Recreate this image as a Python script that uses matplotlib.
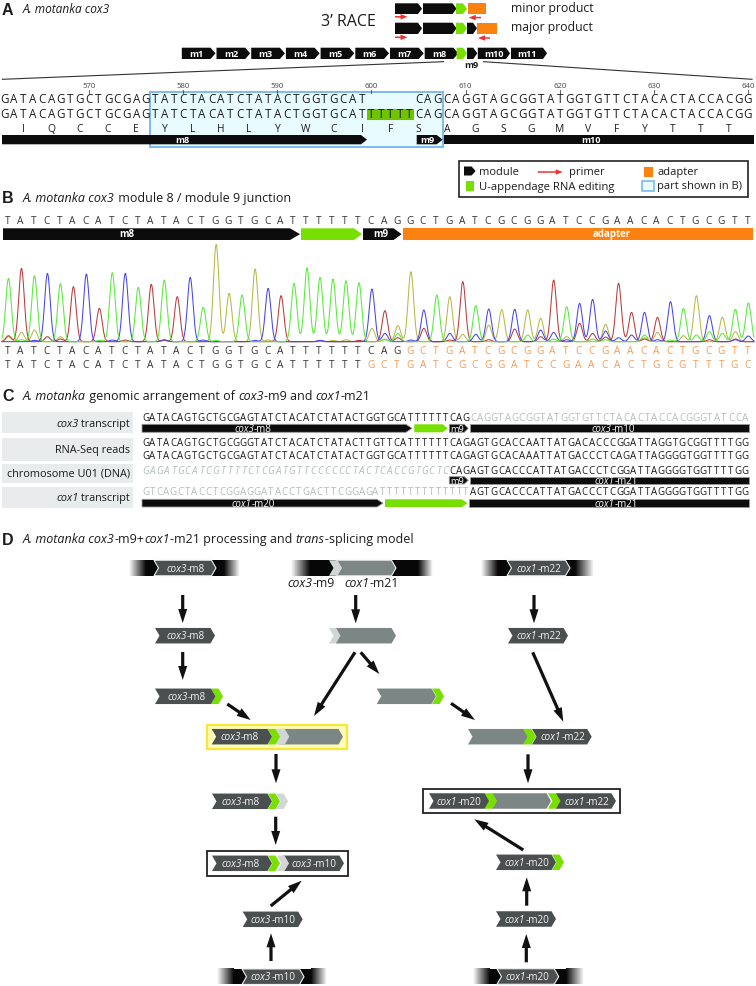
import numpy as np
import matplotlib
matplotlib.use('Agg')
import matplotlib.pyplot as plt
from matplotlib.patches import Polygon, Rectangle, FancyArrow
from matplotlib.font_manager import FontProperties

plt.rcParams['font.family'] = ['Open Sans', 'DejaVu Sans']

# panel A
modules = ['m1', 'm2', 'm3', 'm4', 'm5', 'm6', 'm7', 'm8']
seq_top = 'GATACAGTGCTGCGAGTATCTACATCTATACTGGTGCAT     CAGCAGGTAGCGGTATGGTGTTCTACACTACCACGG'
seq_edit = 'GATACAGTGCTGCGAGTATCTACATCTATACTGGTGCATTTTTTCAGCAGGTAGCGGTATGGTGTTCTACACTACCACGG'
amino = 'IQCCEYLHLYWCIFSAGSGMVFYTTT'
positions = [570, 580, 590, 600, 610, 620, 630, 640]
first_position = 561

# panel B
called_top = 'TATCTACATCTATACTGGTGCATTTTTTCAGGCTGATCGCGGATCCGAACACTGCGTT'
called_row1 = 'TATCTACATCTATACTGGTGCATTTTTTCAGGCTGATCGCGGATCCGAACACTGCGTT'
called_row2 = 'TATCTACATCTATACTGGTGCATTTTTTGCTGATCGCGGATCCGAACACTGCGTTTGC'
row1_black = 31
row2_black = 28
# main peak per base, in trace units
main_peaks = [190, 220, 193, 205, 174, 165, 200, 100, 207, 205, 163, 172, 185, 135, 193,
              103, 292, 145, 140, 218, 160, 138, 175, 217, 193, 188, 183, 177, 158, 93,
              48, 210, 95, 135, 135, 180, 100, 98, 88, 90, 95, 70, 185, 97, 115, 127,
              38, 175, 88, 88, 73, 120, 100, 138, 78, 73, 97, 110]
# small peaks under the main ones: (base index, height)
minor_t = [(1, 6), (2, 5), (7, 4), (16, 4), (23, 4), (29, 6), (30, 25), (33, 5), (36, 8), (40, 20),
           (42, 8), (43, 8), (45, 8), (46, 6), (49, 20), (51, 5), (53, 20), (54, 30), (55, 25), (57, 6)]
minor_a = [(0, 18), (3, 15), (4, 8), (9, 5), (12, 4), (24, 3), (27, 4), (30, 12), (32, 40), (34, 5), (37, 6),
           (39, 38), (41, 15), (44, 55), (45, 25), (46, 14), (49, 8), (54, 6), (56, 8)]
minor_c = [(2, 4), (6, 3), (8, 5), (12, 6), (15, 5), (19, 4), (24, 4), (29, 25), (31, 5), (34, 25), (36, 22),
           (39, 7), (41, 35), (42, 28), (43, 6), (46, 32), (47, 12), (48, 20), (50, 6), (56, 6), (57, 17)]
minor_g = [(0, 15), (1, 28), (2, 35), (4, 15), (12, 5), (20, 5), (25, 4), (26, 6), (28, 40), (29, 8), (35, 22),
           (37, 50), (38, 8), (43, 15), (46, 14), (49, 12), (50, 28), (52, 18), (56, 30)]

# panel C
seq_cox3_black = 'GATACAGTGCTGCGAGTATCTACATCTATACTGGTGCATTTTTTCAG'
seq_cox3_grey = 'CAGGTAGCGGTATGGTGTTCTACACTACCACGGGTATCCA'
seq_rna1 = 'GATACAGTGCTGCGGGTATCTACATCTATACTTGTTCATTTTTTCAGAGTGCACCAATTATGACACCCGGATTAGGTGCGGTTTTGG'
seq_rna2 = 'GATACAGTGCTGCGAGTATCTACATCTATACTGGTGCATTTTTTCAGAGTGCACAAATTATGACCCTCAGATTAGGGGTGGTTTTGG'
seq_chr_grey = 'GAGATGCATCGTTTTCTCGATGTTCCCCCCTACTCACCGTGCTC'
seq_chr_black = 'CAGAGTGCACCCATTATGACCCTCGGATTAGGGGTGGTTTTGG'
seq_cox1_grey = 'GTCAGCTACCTCGGAGGATACCTGACTTCGGAGATTTTTTTTTTTTT'
seq_cox1_black = 'AGTGCACCCATTATGACCCTCGGATTAGGGGTGGTTTTGG'

BLACK = '#0c0c0c'
GREEN = '#78e000'
ORANGE = '#fb8110'
DARK = '#4a4f50'
GREY = '#7b8685'
LIGHT = '#d3d6d6'
RED = '#f03030'
TXT = '#1c1c1c'
SOFT = '#b4bcbc'
TITLE = 9.0
CHEV = 7.2

fig = plt.figure(figsize=(7.56, 9.86), dpi=100)
ax = fig.add_axes([0, 0, 1, 1])


def baseline(y, size):
    # y is the middle of the capitals
    return y + 0.357 * size * 100 / 72


def seq(x0, step, y, s, size, color=TXT, style='normal', weight='normal'):
    for i, c in enumerate(s):
        if c != ' ':
            ax.text(x0 + step * i, baseline(y, size), c, ha='center', va='baseline',
                    fontsize=size, color=color, style=style, weight=weight, zorder=5)


def width(s, style, size):
    r = fig.canvas.get_renderer()
    fp = FontProperties(family=plt.rcParams['font.family'], style=style, size=size)
    w1 = r.get_text_width_height_descent('x' + s + 'x', fp, False)[0]
    w2 = r.get_text_width_height_descent('xx', fp, False)[0]
    return w1 - w2


def rich(x, y, parts, size, color=TXT, ha='left'):
    # mixed italic and upright text on one line
    widths = [width(s, 'italic' if it else 'normal', size) for s, it in parts]
    total = sum(widths)
    if ha == 'center':
        x = x - total / 2
    elif ha == 'right':
        x = x - total
    for (s, it), w in zip(parts, widths):
        ax.text(x, baseline(y, size), s, ha='left', va='baseline', fontsize=size, color=color,
                style='italic' if it else 'normal', zorder=9)
        x += w


def bar(x0, x1, y0, y1, color=BLACK, head=0, edge='none', z=3):
    if head:
        pts = [(x0, y0), (x1 - head, y0), (x1, (y0 + y1) / 2), (x1 - head, y1), (x0, y1)]
    else:
        pts = [(x0, y0), (x1, y0), (x1, y1), (x0, y1)]
    ax.add_patch(Polygon(pts, closed=True, fc=color, ec=edge, lw=0.6, zorder=z))


def label(x, y, s, size=6.6, weight='bold', color='white'):
    ax.text(x, baseline(y, size), s, ha='center', va='baseline', fontsize=size, color=color,
            weight=weight, zorder=9)


def chevron(x0, x1, yc, color, h=15.5, d=4.5, edge='none', z=4):
    t, b = yc - h / 2, yc + h / 2
    pts = [(x0, t), (x1 - d, t), (x1, yc), (x1 - d, b), (x0, b), (x0 + d, yc)]
    ax.add_patch(Polygon(pts, closed=True, fc=color, ec=edge, lw=0.8, zorder=z))


def genomic(x0, x1, x2, x3, yc, h=15.5):
    ramp = np.linspace(1, 0.03, 64)[None, :]
    t, b = yc + h / 2, yc - h / 2
    ax.imshow(ramp, cmap='gray', vmin=0, vmax=1, extent=(x0, x1, t, b), aspect='auto', zorder=2)
    ax.imshow(ramp[:, ::-1], cmap='gray', vmin=0, vmax=1, extent=(x2, x3, t, b), aspect='auto', zorder=2)
    bar(x1, x2, b, t, color='#070707', z=2)


def arrow(x0, y0, x1, y1):
    ax.add_patch(FancyArrow(x0, y0, x1 - x0, y1 - y0, width=3.2, head_width=9, head_length=14,
                            length_includes_head=True, fc='#111111', ec='none', zorder=5))


def primer(x0, x1, y):
    ax.add_patch(FancyArrow(x0, y, x1 - x0, 0, width=1.5, head_width=5.5, head_length=7,
                            length_includes_head=True, fc=RED, ec='none', zorder=5))


def panel_letter(s, y):
    ax.text(2, baseline(y, 11.5), s, fontsize=11.5, weight='bold', family='Liberation Sans',
            color=TXT, ha='left', va='baseline')


def panel_a():
    panel_letter('A', 9)
    rich(23, 9, [('A. motanka cox3', True)], 8.6)
    ax.text(348, baseline(20, 11.5), '3’ RACE', fontsize=11.5, ha='center', va='baseline', color=TXT)

    # 3' RACE products
    for yt, yb, last in [(3.3, 14, 'minor'), (22.7, 34, 'major')]:
        bar(395, 422, yt, yb, head=4)
        bar(423, 456.5, yt, yb, head=4)
        bar(456, 467, yt, yb, color=GREEN, head=4)
        if last == 'minor':
            bar(467.7, 486, yt, yb, color=ORANGE)
        else:
            bar(467, 477, yt, yb, head=4)
            bar(477.3, 496.6, yt, yb, color=ORANGE)
    primer(395, 407.5, 16.8)
    primer(481, 468.7, 17.6)
    primer(395, 407.5, 37.3)
    primer(490, 478, 38)
    rich(511, 8, [('minor product', False)], 8.8)
    rich(511, 27, [('major product', False)], 8.8)

    # module overview
    x = 181.8
    for name in modules:
        bar(x, x + 33.7, 47.7, 59, head=5)
        label(x + 14.5, 53.5, name)
        x += 34.7
    bar(456.6, 467, 47.7, 59, color=GREEN, head=4)
    bar(467, 477.3, 47.7, 59, head=4)
    bar(477.8, 510, 47.7, 59, head=4)
    label(494, 53.5, 'm10')
    bar(511, 547, 47.7, 59, head=4)
    label(527, 53.5, 'm11')
    label(471, 65, 'm9', color=TXT)
    ax.plot([2.4, 443.6], [79.3, 61.7], color='#333333', lw=0.8)
    ax.plot([483.6, 752], [61.7, 79.3], color='#333333', lw=0.8)

    # alignment
    step = 9.41
    x0 = 4.5
    ax.add_patch(Rectangle((150, 92), 292.7, 55, fc='#e8fbff', ec='#7db9f2', lw=1.4, zorder=1))
    bar(x0 + step * 39 - 4.7, x0 + step * 43 + 4.7, 109, 119.5, color='#6fc400', z=2)
    for p in positions:
        xp = x0 + step * (p - first_position)
        ax.text(xp, 86, str(p), fontsize=5.6, color='#444444', ha='center', va='center')
        ax.plot([xp, xp], [90, 92.5], color='#444444', lw=0.6)
    seq(x0, step, 99, seq_top, 8.4)
    seq(x0, step, 114, seq_edit, 8.4)
    seq(x0 + 2 * step, 3 * step, 128, amino, 7.4)
    bar(2, 367, 135, 144.3, head=6)
    bar(416.7, 442.7, 135, 144.3, head=6)
    bar(444, 753.7, 135, 144.3)
    label(182, 139.8, 'm8')
    label(427, 139.8, 'm9')
    label(591, 139.8, 'm10')

    # key
    ax.add_patch(Rectangle((459.3, 160.7), 289, 36, fc='white', ec='#222222', lw=1.2, zorder=1))
    bar(464, 475.6, 166.5, 175.5, head=4)
    bar(466, 474, 180.5, 190.5, color=GREEN)
    primer(537.7, 562.7, 172)
    bar(644, 653, 167, 177, color=ORANGE)
    ax.add_patch(Rectangle((642, 181), 12, 10, fc='#e8fbff', ec='#7db9f2', lw=1.2, zorder=3))
    rich(478.7, 171, [('module', False)], 8.0)
    rich(568.7, 171, [('primer', False)], 8.0)
    rich(657, 171, [('adapter', False)], 8.0)
    rich(478.7, 185.5, [('U-appendage RNA editing', False)], 8.1)
    rich(657, 185.5, [('part shown in B)', False)], 8.0)


def panel_b():
    panel_letter('B', 197.5)
    rich(23, 197.5, [('A. motanka cox3', True), (' module 8 / module 9 junction', False)], TITLE)
    step = 12.98
    x0 = 7.5
    seq(x0, step, 220, called_top, 7.3, color='#333333')
    bar(3, 300, 228.3, 240, head=10)
    bar(301, 362, 228.3, 240, color=GREEN, head=8)
    bar(363, 401.6, 228.3, 240, head=8)
    bar(403, 752.7, 228.3, 240, color=ORANGE)
    label(127, 234, 'm8', size=7)
    label(381, 234, 'm9', size=7)
    label(612, 234, 'adapter', size=7)

    # traces: one peak shape per called base
    xs = np.linspace(0, 756, 3000)
    base_y = 341.7
    scale = 1 / 3.0
    sigma = 2.75
    peaks = {'T': list(minor_t), 'A': list(minor_a), 'C': list(minor_c), 'G': list(minor_g)}
    for i, (c, h) in enumerate(zip(called_top, main_peaks)):
        peaks[c].append((i, h))
    colors = {'G': '#b8b848', 'A': '#b93c3c', 'C': '#4646ee', 'T': '#58ea3c'}
    for c in ['G', 'A', 'C', 'T']:
        sig = np.zeros_like(xs)
        for i, h in peaks[c]:
            sig += h * scale * np.exp(-0.5 * ((xs - (x0 + 1 + step * i)) / sigma) ** 2)
        mask = (xs > 2) & (xs < 754)
        ax.plot(xs[mask], base_y - sig[mask], color=colors[c], lw=0.75, zorder=3)

    seq(x0, step, 350, called_row1[:row1_black], 7.3, color='#333333')
    seq(x0 + step * row1_black, step, 350, called_row1[row1_black:], 7.3, color='#f59a55')
    seq(x0, step, 364, called_row2[:row2_black], 7.3, color='#333333')
    seq(x0 + step * row2_black, step, 364, called_row2[row2_black:], 7.3, color='#f59a55')


def panel_c():
    panel_letter('C', 395.5)
    rich(23, 395.5, [('A. motanka', True), (' genomic arrangement of ', False), ('cox3', True),
                     ('-m9 and ', False), ('cox1', True), ('-m21', False)], TITLE)
    for y0, y1 in [(412, 433), (438, 461), (464, 483), (487, 508)]:
        ax.add_patch(Rectangle((2, y0), 131, y1 - y0, fc='#e9ecec', ec='none', zorder=1))
    rich(130, 423, [('cox3', True), (' transcript', False)], 7.8, ha='right')
    rich(130, 449.5, [('RNA-Seq reads', False)], 7.8, ha='right')
    rich(130, 473, [('chromosome U01 (DNA)', False)], 7.8, ha='right')
    rich(130, 497.5, [('cox1', True), (' transcript', False)], 7.8, ha='right')

    step = 6.97
    x0 = 145.5
    seq(x0, step, 417.7, seq_cox3_black, 7.0)
    seq(x0 + step * 47, step, 417.7, seq_cox3_grey, 7.0, color=SOFT)
    seq(x0, step, 442.3, seq_rna1, 7.0)
    seq(x0, step, 455.7, seq_rna2, 7.0)
    seq(x0, step, 470.7, seq_chr_grey, 7.0, color=SOFT, style='italic')
    seq(x0 + step * 44, step, 470.7, seq_chr_black, 7.0)
    seq(x0, step, 491.7, seq_cox1_grey, 7.0, color=SOFT)
    seq(x0 + step * 47, step, 491.7, seq_cox1_black, 7.0)

    e = '#9a9a9a'
    bar(142, 412, 424.3, 432.3, head=6, edge=e)
    bar(414.3, 447.7, 424.3, 432.3, color=GREEN, head=5)
    bar(449.3, 468.3, 424.3, 432.3, head=4, edge=e)
    bar(470, 749.3, 424.3, 432.3, edge=e)
    rich(253, 428.3, [('cox3', True), ('-m8', False)], 7, color='white', ha='center')
    rich(613, 428.3, [('cox3', True), ('-m10', False)], 7, color='white', ha='center')
    rich(457, 428.3, [('m9', False)], 6.6, color='white', ha='center')

    bar(449.3, 468.3, 476.7, 484, head=4, edge=e)
    bar(470, 749.3, 476.7, 484, edge=e)
    rich(457, 480.3, [('m9', False)], 6.6, color='white', ha='center')
    rich(616, 480.3, [('cox1', True), ('-m21', False)], 7, color='white', ha='center')

    bar(142, 383, 499.3, 507, head=6, edge=e)
    bar(385, 467.7, 499.3, 507, color=GREEN, head=6)
    bar(469.3, 749.3, 499.3, 507, edge=e)
    rich(253, 503.2, [('cox1', True), ('-m20', False)], 7, color='white', ha='center')
    rich(616, 503.2, [('cox1', True), ('-m21', False)], 7, color='white', ha='center')


def dark_label(x, y, gene, module):
    rich(x, y, [(gene, True), (module, False)], CHEV, color='#f2f2f2', ha='center')


def panel_d():
    panel_letter('D', 539)
    rich(23, 539, [('A. motanka cox3', True), ('-m9+', False), ('cox1', True),
                   ('-m21 processing and ', False), ('trans', True), ('-splicing model', False)], TITLE)

    # genomic context, first row
    genomic(129, 146, 224, 240, 568)
    chevron(154, 216, 568, DARK, edge='#f0f0f0')
    dark_label(186, 568, 'cox3', '-m8')
    genomic(291, 310, 418, 433, 568)
    chevron(329, 342, 568, LIGHT, z=5)
    chevron(336, 396, 568, GREY, edge='#f0f0f0', z=4)
    rich(311, 583, [('cox3', True), ('-m9', False)], 8.8, ha='center')
    rich(372, 583, [('cox1', True), ('-m21', False)], 8.8, ha='center')
    genomic(481, 498, 575, 594, 568)
    chevron(507, 570, 568, DARK, edge='#f0f0f0')
    dark_label(539, 568, 'cox1', '-m22')

    # second row
    chevron(155, 215, 635.7, DARK)
    dark_label(186, 635.7, 'cox3', '-m8')
    chevron(329, 342, 635.7, LIGHT)
    chevron(336, 396, 635.7, GREY)
    chevron(508, 568, 635.7, DARK)
    dark_label(539, 635.7, 'cox1', '-m22')

    # third row
    chevron(211, 223, 696.3, GREEN)
    chevron(155, 215.5, 696.3, DARK, z=5)
    dark_label(186.5, 696.3, 'cox3', '-m8')
    chevron(432, 444, 696.3, GREEN)
    chevron(376.7, 436, 696.3, GREY, z=5)

    # fourth row
    ax.add_patch(Rectangle((206.7, 725), 140.6, 24, fc='#fdfbb8', ec='#f6e83a', lw=1.6, zorder=1))
    chevron(279, 343, 736.7, GREY, z=4)
    chevron(275, 289.3, 736.7, LIGHT, z=5)
    chevron(267.7, 280, 736.7, GREEN, z=6)
    chevron(211.7, 272, 736.7, DARK, z=7)
    dark_label(240, 736.7, 'cox3', '-m8')
    chevron(468, 528, 736.7, GREY, z=4)
    chevron(523, 536, 736.7, GREEN, z=5)
    chevron(532, 591.7, 736.7, DARK, z=6)
    dark_label(563, 736.7, 'cox1', '-m22')

    # fifth row
    chevron(276, 288, 801.3, LIGHT, z=4)
    chevron(268, 280, 801.3, GREEN, z=5)
    chevron(212, 272, 801.3, DARK, z=6)
    dark_label(240.5, 801.3, 'cox3', '-m8')
    ax.add_patch(Rectangle((422.7, 789), 197.3, 24.3, fc='white', ec='#222222', lw=1.3, zorder=1))
    chevron(492, 551, 801, GREY, z=4)
    chevron(484, 497, 801, GREEN, z=5)
    chevron(429, 489, 801, DARK, z=6)
    chevron(548, 561, 801, GREEN, z=5)
    chevron(556, 616, 801, DARK, z=6)
    dark_label(459, 801, 'cox1', '-m20')
    dark_label(587, 801, 'cox1', '-m22')

    # sixth row
    ax.add_patch(Rectangle((206.7, 851), 141.6, 24.7, fc='white', ec='#222222', lw=1.3, zorder=1))
    chevron(283, 344, 863.3, DARK, z=4)
    chevron(277, 289, 863.3, LIGHT, z=5)
    chevron(268, 280, 863.3, GREEN, z=6)
    chevron(212, 272, 863.3, DARK, z=7)
    dark_label(240.7, 863.3, 'cox3', '-m8')
    dark_label(314, 863.3, 'cox3', '-m10')
    chevron(552, 564, 862.3, GREEN, z=4)
    chevron(496, 556, 862.3, DARK, z=5)
    dark_label(527, 862.3, 'cox1', '-m20')

    # seventh and eighth rows
    chevron(242.7, 302.7, 919.3, DARK)
    dark_label(273, 919.3, 'cox3', '-m10')
    chevron(496, 556, 919, DARK)
    dark_label(527, 919, 'cox1', '-m20')
    genomic(216.7, 233, 311, 327, 976.7)
    chevron(242, 304, 976.7, DARK, edge='#f0f0f0')
    dark_label(273, 976.7, 'cox3', '-m10')
    genomic(472.7, 489, 566, 584, 976.5)
    chevron(497, 558.7, 976.5, DARK, edge='#f0f0f0')
    dark_label(527.5, 976.5, 'cox1', '-m20')

    for a in [(182.7, 595, 182.7, 623), (182.7, 652, 182.7, 680), (227.3, 704, 250.7, 720),
              (355.7, 595, 355.7, 623.3), (355, 652.3, 314, 716), (360.7, 652.3, 379.3, 674),
              (534, 595, 534, 623.3), (532.7, 652.3, 563.3, 721.7), (451, 703.3, 475, 720),
              (276, 754, 276, 783.3), (528, 754.3, 528, 783.3), (275.7, 816.7, 275.7, 845),
              (270.7, 906, 301.7, 880.7), (271, 961, 271, 933.3), (523.3, 850, 474.3, 819.3),
              (526.7, 905.7, 526.7, 877.3), (526.3, 962.3, 526.3, 934)]:
        arrow(*a)


def main():
    panel_a()
    panel_b()
    panel_c()
    panel_d()
    ax.set_xlim(0, 756)
    ax.set_ylim(986, 0)
    ax.axis('off')
    fig.savefig('out.png', dpi=100)


if __name__ == '__main__':
    main()
